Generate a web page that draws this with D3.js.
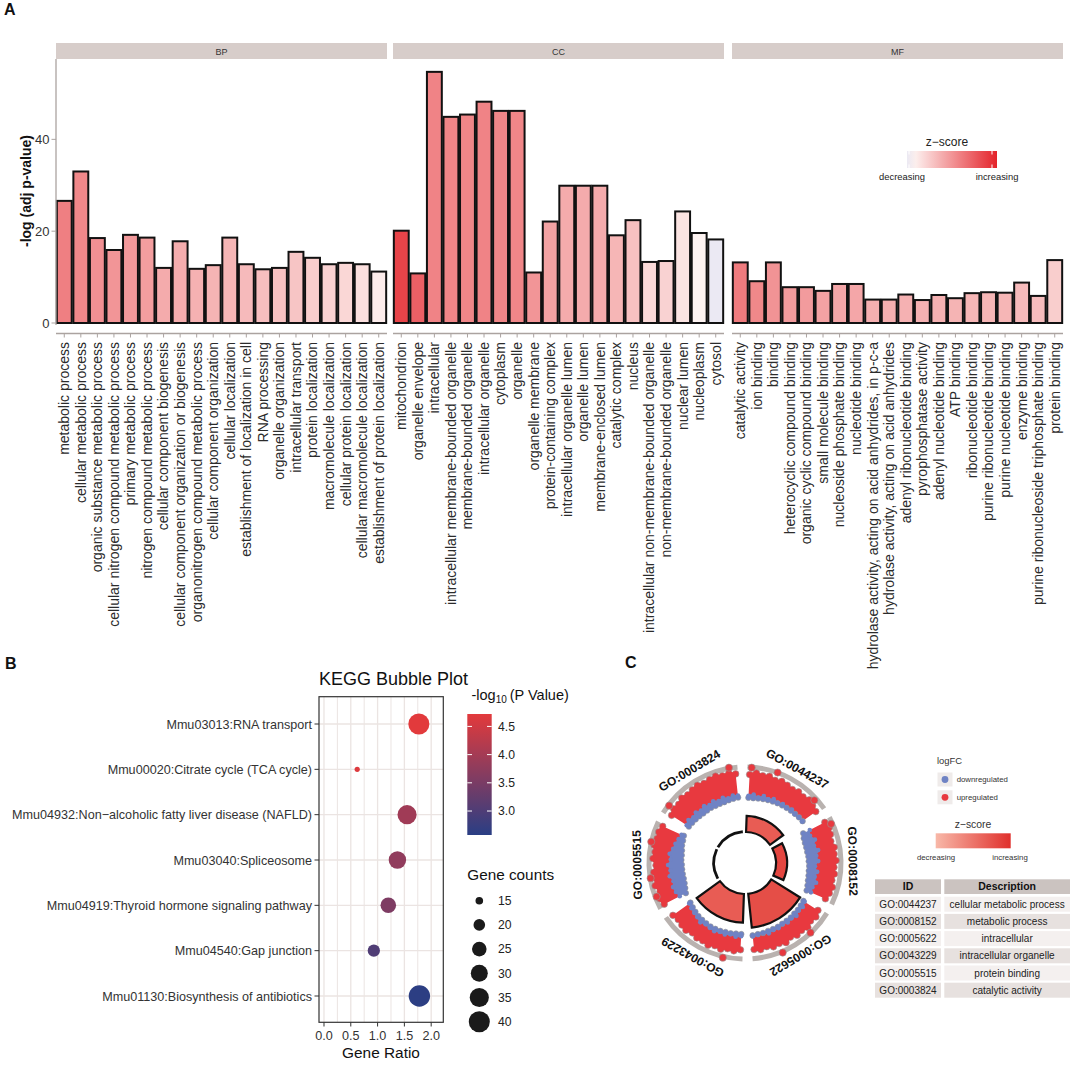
<!DOCTYPE html>
<html>
<head>
<meta charset="utf-8">
<script src="https://d3js.org/d3.v7.min.js"></script>
<style>
  body { margin: 0; background: #fff; }
  text { font-family: "Liberation Sans", Arial, sans-serif; }
</style>
</head>
<body>
<script>
// ---------- Panel A: GO enrichment bars ----------
var bpTerms = ["metabolic process", "cellular metabolic process", "organic substance metabolic process",
  "cellular nitrogen compound metabolic process", "primary metabolic process", "nitrogen compound metabolic process",
  "cellular component biogenesis", "cellular component organization or biogenesis",
  "organonitrogen compound metabolic process", "cellular component organization", "cellular localization",
  "establishment of localization in cell", "RNA processing", "organelle organization", "intracellular transport",
  "protein localization", "macromolecule localization", "cellular protein localization",
  "cellular macromolecule localization", "establishment of protein localization"];
var bpValue = [26.6, 33.0, 18.5, 15.9, 19.2, 18.6, 12.0, 17.8, 11.8, 12.6, 18.6, 12.8, 11.7, 12.0, 15.5, 14.2, 12.8, 13.1, 12.8, 11.2];
var bpZ = [0.58, 0.54, 0.50, 0.48, 0.46, 0.44, 0.38, 0.37, 0.35, 0.34, 0.33, 0.31, 0.29, 0.28, 0.26, 0.22, 0.20, 0.18, 0.14, 0.08];

var ccTerms = ["mitochondrion", "organelle envelope", "intracellular", "intracellular membrane-bounded organelle",
  "membrane-bounded organelle", "intracellular organelle", "cytoplasm", "organelle", "organelle membrane",
  "protein-containing complex", "intracellular organelle lumen", "organelle lumen", "membrane-enclosed lumen",
  "catalytic complex", "nucleus", "intracellular non-membrane-bounded organelle", "non-membrane-bounded organelle",
  "nuclear lumen", "nucleoplasm", "cytosol"];
var ccValue = [20.1, 10.8, 54.7, 44.9, 45.4, 48.2, 46.2, 46.2, 11.0, 22.1, 29.9, 29.9, 29.9, 19.1, 22.4, 13.3, 13.5, 24.3, 19.6, 18.2];
var ccZ = [0.85, 0.72, 0.56, 0.55, 0.55, 0.56, 0.55, 0.55, 0.48, 0.42, 0.38, 0.38, 0.38, 0.33, 0.28, 0.17, 0.20, 0.12, 0.05, -0.03];

var mfTerms = ["catalytic activity", "ion binding", "binding", "heterocyclic compound binding",
  "organic cyclic compound binding", "small molecule binding", "nucleoside phosphate binding", "nucleotide binding",
  "hydrolase activity, acting on acid anhydrides, in p-c-a", "hydrolase activity, acting on acid anhydrides",
  "adenyl ribonucleotide binding", "pyrophosphatase activity", "adenyl nucleotide binding", "ATP binding",
  "ribonucleotide binding", "purine ribonucleotide binding", "purine nucleotide binding", "enzyme binding",
  "purine ribonucleoside triphosphate binding", "protein binding"];
var mfValue = [13.2, 9.1, 13.2, 7.8, 7.8, 7.0, 8.5, 8.5, 5.1, 5.1, 6.2, 5.0, 6.1, 5.4, 6.5, 6.7, 6.6, 8.8, 5.9, 13.7];
var mfZ = [0.60, 0.54, 0.49, 0.45, 0.45, 0.42, 0.40, 0.40, 0.36, 0.36, 0.35, 0.35, 0.35, 0.34, 0.33, 0.33, 0.33, 0.31, 0.30, 0.22];

var facetNames = ["BP", "CC", "MF"];
var yTicksA = [0, 20, 40];

// ---------- Panel B: KEGG bubbles ----------
var keggTerms = ["Mmu03013:RNA transport", "Mmu00020:Citrate cycle (TCA cycle)",
  "Mmu04932:Non\u2212alcoholic fatty liver disease (NAFLD)", "Mmu03040:Spliceosome",
  "Mmu04919:Thyroid hormone signaling pathway", "Mmu04540:Gap junction", "Mmu01130:Biosynthesis of antibiotics"];
var keggRatio = [1.77, 0.62, 1.55, 1.37, 1.20, 0.93, 1.78];
var keggLogP = [4.72, 4.66, 3.95, 3.78, 3.55, 3.02, 2.60];
var keggCount = [40, 13, 35, 31, 27, 21, 41];
var ratioTicks = [0, 0.5, 1, 1.5, 2];
var logPTicks = [3.0, 3.5, 4.0, 4.5];
var countBreaks = [15, 20, 25, 30, 35, 40];

// ---------- Panel C: GO circle ----------
var goIds = ["GO:0044237", "GO:0008152", "GO:0005622", "GO:0043229", "GO:0005515", "GO:0003824"];
var goDesc = ["cellular metabolic process", "metabolic process", "intracellular", "intracellular organelle",
  "protein binding", "catalytic activity"];
var goAdjP = [33.0, 26.6, 54.7, 48.2, 13.7, 13.2];
var goZ = [6.8, 8.4, 7.8, 6.8, 5.0, 5.3];
// logFC envelope of member genes, 13 angular bins per term
var ringUp = [
  [2.2, 2.6, 2.3, 2.5, 2.1, 2.4, 2.2, 2.0, 2.3, 2.1, 2.5, 2.2, 2.0],
  [2.4, 2.7, 2.5, 2.2, 2.6, 2.4, 2.7, 2.3, 2.5, 2.2, 2.6, 2.4, 2.1],
  [1.9, 2.3, 2.0, 2.5, 2.1, 2.3, 1.9, 2.4, 2.0, 2.2, 1.8, 2.1, 1.9],
  [1.9, 2.2, 2.0, 2.4, 2.1, 2.5, 2.2, 2.3, 2.0, 2.4, 2.2, 2.0, 2.3],
  [2.6, 2.9, 2.4, 3.0, 2.5, 2.8, 2.3, 2.9, 2.6, 3.0, 2.7, 2.8, 2.5],
  [2.0, 2.4, 2.2, 2.6, 2.3, 2.5, 2.7, 2.4, 2.6, 2.8, 2.5, 2.7, 2.4]];
var ringMid = [
  [-1.9, -1.6, -2.0, -1.5, -1.8, -1.4, -1.7, -1.4, -1.6, -1.2, -1.5, -1.3, -1.3],
  [-0.9, -1.3, -0.7, -1.2, -0.6, -1.1, -0.8, -1.4, -0.9, -1.2, -0.7, -1.1, -1.0],
  [-1.2, -0.9, -1.1, -0.7, -1.0, -0.8, -1.1, -0.8, -0.9, -0.6, -1.0, -0.8, -0.7],
  [-0.8, -0.6, -0.9, -0.6, -0.8, -0.5, -0.7, -0.9, -0.6, -1.0, -1.2, -1.4, -1.6],
  [-0.8, -0.5, -0.3, -0.7, -0.2, -0.5, -0.1, -0.6, -0.3, -0.8, -1.0, -1.3, -1.5],
  [-1.5, -1.2, -1.6, -1.3, -1.7, -1.4, -1.8, -1.5, -1.9, -1.6, -2.0, -1.7, -1.8]];
var ringDown = [
  [-2.6, -2.6, -2.5, -2.4, -2.3, -2.2, -2.1, -2.0, -1.9, -1.8, -1.7, -1.6, -1.5],
  [-2.6, -2.9, -3.0, -3.0, -3.0, -2.9, -2.9, -2.8, -2.8, -2.7, -2.6, -2.4, -2.2],
  [-1.8, -1.7, -1.6, -1.6, -1.5, -1.5, -1.5, -1.4, -1.4, -1.4, -1.3, -1.3, -1.2],
  [-1.5, -1.5, -1.4, -1.4, -1.3, -1.3, -1.3, -1.4, -1.5, -1.6, -1.8, -2.0, -2.2],
  [-2.4, -2.7, -2.9, -3.0, -3.0, -3.0, -3.0, -2.9, -2.9, -2.8, -2.6, -2.5, -2.3],
  [-2.3, -2.4, -2.5, -2.6, -2.7, -2.7, -2.7, -2.8, -2.8, -2.8, -2.7, -2.6, -2.5]];
// isolated genes with large logFC: [term index, position in sector 0-1, logFC]
var ringOutliers = [[0, 0.02, 3.3], [0, 0.33, 3.4], [0, 0.88, 2.9], [1, 0.05, 3.1], [2, 0.27, 3.3],
  [2, 0.67, 3.6], [3, 0.2, 3.6], [4, 0.12, 3.1], [4, 0.35, 3.3], [4, 0.78, 3.4], [5, 0.08, 3.2], [5, 0.93, 3.5]];

var svg = d3.select("body").append("svg").attr("width", 1084).attr("height", 1072);
var defs = svg.append("defs");

function panelLetter(t, x, y) {
  svg.append("text").attr("x", x).attr("y", y).text(t)
    .attr("font-size", 16).attr("font-weight", "bold").attr("fill", "#111");
}
panelLetter("A", 4, 15);
panelLetter("B", 5, 669);
panelLetter("C", 625, 668);

// ================= Panel A =================
var facets = [
  { name: facetNames[0], terms: bpTerms, values: bpValue, z: bpZ },
  { name: facetNames[1], terms: ccTerms, values: ccValue, z: ccZ },
  { name: facetNames[2], terms: mfTerms, values: mfValue, z: mfZ }];
var facetLeft = [56, 393, 732], facetW = 331;
var yA = d3.scaleLinear().domain([0, 57.5]).range([323, 59]);
var zColorA = d3.scaleLinear().domain([-0.03, 0.05, 1]).range(["#ebe9f3", "#fdf3f1", "#e4232a"]);
var axisGrey = "#aba3a0";

facets.forEach(function (f, i) {
  var left = facetLeft[i];
  var g = svg.append("g");
  g.append("rect").attr("x", left).attr("y", 43).attr("width", facetW).attr("height", 16).attr("fill", "#d7cdca");
  g.append("text").attr("x", left + facetW / 2).attr("y", 54.5).attr("text-anchor", "middle")
    .attr("font-size", 9).attr("fill", "#333").text(f.name);

  var x = d3.scaleBand().domain(f.terms).range([left, left + facetW]).paddingInner(0.1).paddingOuter(0.05);
  g.selectAll("rect.bar").data(f.terms).enter().append("rect").attr("class", "bar")
    .attr("x", function (d) { return x(d); })
    .attr("y", function (d, j) { return yA(f.values[j]); })
    .attr("width", x.bandwidth())
    .attr("height", function (d, j) { return yA(0) - yA(f.values[j]); })
    .attr("fill", function (d, j) { return zColorA(f.z[j]); })
    .attr("stroke", "#111").attr("stroke-width", 2);

  g.append("line").attr("x1", left).attr("x2", left + facetW).attr("y1", 333.5).attr("y2", 333.5)
    .attr("stroke", axisGrey).attr("stroke-width", 1.3);
  g.selectAll("line.tick").data(f.terms).enter().append("line").attr("class", "tick")
    .attr("x1", function (d) { return x(d) + x.bandwidth() / 2; })
    .attr("x2", function (d) { return x(d) + x.bandwidth() / 2; })
    .attr("y1", 333.5).attr("y2", 337.5).attr("stroke", axisGrey).attr("stroke-width", 1);
  g.selectAll("text.lab").data(f.terms).enter().append("text").attr("class", "lab")
    .attr("transform", function (d) { return "translate(" + (x(d) + x.bandwidth() / 2) + ",342) rotate(-90)"; })
    .attr("text-anchor", "end").attr("dy", "0.35em")
    .attr("font-size", 14).attr("fill", "#2b2b2b").text(function (d) { return d; });
});

// y axis (first facet only)
svg.append("line").attr("x1", 56).attr("x2", 56).attr("y1", 59).attr("y2", 325)
  .attr("stroke", axisGrey).attr("stroke-width", 1.3);
yTicksA.forEach(function (t) {
  svg.append("line").attr("x1", 51.5).attr("x2", 56).attr("y1", yA(t)).attr("y2", yA(t))
    .attr("stroke", axisGrey).attr("stroke-width", 1);
  svg.append("text").attr("x", 49.5).attr("y", yA(t)).attr("dy", "0.36em").attr("text-anchor", "end")
    .attr("font-size", 13).attr("fill", "#333").text(t);
});
svg.append("text").attr("transform", "translate(31,191) rotate(-90)").attr("text-anchor", "middle")
  .attr("font-size", 14).attr("font-weight", "bold").attr("fill", "#111").text("-log (adj p-value)");

// z-score legend (A)
var gradA = defs.append("linearGradient").attr("id", "gradA");
d3.range(0, 1.001, 0.1).forEach(function (t) {
  gradA.append("stop").attr("offset", t).attr("stop-color", zColorA(-0.03 + t * 1.03));
});
svg.append("text").attr("x", 947).attr("y", 146).attr("text-anchor", "middle").attr("font-size", 12)
  .attr("fill", "#222").text("z\u2212score");
svg.append("rect").attr("x", 907).attr("y", 151).attr("width", 90).attr("height", 17).attr("fill", "url(#gradA)");
[909, 992].forEach(function (tx) {
  svg.append("line").attr("x1", tx).attr("x2", tx).attr("y1", 151).attr("y2", 154.5).attr("stroke", "#fff");
  svg.append("line").attr("x1", tx).attr("x2", tx).attr("y1", 164.5).attr("y2", 168).attr("stroke", "#fff");
});
svg.append("text").attr("x", 902).attr("y", 180).attr("text-anchor", "middle").attr("font-size", 9.4)
  .attr("fill", "#222").text("decreasing");
svg.append("text").attr("x", 997).attr("y", 180).attr("text-anchor", "middle").attr("font-size", 9.4)
  .attr("fill", "#222").text("increasing");

// ================= Panel B =================
var xB = d3.scaleLinear().domain([-0.093, 2.226]).range([319, 443.3]);
var yB = d3.scalePoint().domain(keggTerms).range([724, 996]);
var colB = d3.scaleLinear().domain([2.575, 4.72]).range(["#2a3e84", "#e23a3c"]);
var sizeB = d3.scaleRadial().domain([13, 41]).range([2.6, 10.7]);
var gB = svg.append("g");

gB.append("text").attr("x", 319).attr("y", 685).attr("font-size", 18).attr("fill", "#111").text("KEGG Bubble Plot");
gB.append("rect").attr("x", 319).attr("y", 696.7).attr("width", 124.3).attr("height", 325.6).attr("fill", "#fff");
d3.range(0, 2.01, 0.25).forEach(function (v) {
  gB.append("line").attr("x1", xB(v)).attr("x2", xB(v)).attr("y1", 696.7).attr("y2", 1022.3)
    .attr("stroke", "#ebe4e2").attr("stroke-width", v % 0.5 === 0 ? 1.3 : 1);
});
keggTerms.forEach(function (t) {
  gB.append("line").attr("x1", 319).attr("x2", 443.3).attr("y1", yB(t)).attr("y2", yB(t))
    .attr("stroke", "#ebe4e2").attr("stroke-width", 1.3);
});
gB.append("rect").attr("x", 319).attr("y", 696.7).attr("width", 124.3).attr("height", 325.6)
  .attr("fill", "none").attr("stroke", "#333").attr("stroke-width", 1.2);

gB.selectAll("circle.kegg").data(keggTerms).enter().append("circle").attr("class", "kegg")
  .attr("cx", function (d, i) { return xB(keggRatio[i]); })
  .attr("cy", function (d) { return yB(d); })
  .attr("r", function (d, i) { return sizeB(keggCount[i]); })
  .attr("fill", function (d, i) { return colB(keggLogP[i]); });

keggTerms.forEach(function (t) {
  gB.append("line").attr("x1", 314.5).attr("x2", 319).attr("y1", yB(t)).attr("y2", yB(t)).attr("stroke", "#333");
  gB.append("text").attr("x", 312).attr("y", yB(t)).attr("dy", "0.36em").attr("text-anchor", "end")
    .attr("font-size", 12.6).attr("fill", "#333").text(t);
});
ratioTicks.forEach(function (v) {
  gB.append("line").attr("x1", xB(v)).attr("x2", xB(v)).attr("y1", 1022.3).attr("y2", 1026.5).attr("stroke", "#333");
  gB.append("text").attr("x", xB(v)).attr("y", 1040).attr("text-anchor", "middle")
    .attr("font-size", 12.6).attr("fill", "#333").text(v.toFixed(1));
});
gB.append("text").attr("x", 381).attr("y", 1058).attr("text-anchor", "middle").attr("font-size", 15.4)
  .attr("fill", "#111").text("Gene Ratio");

// colour bar legend
var lt = gB.append("text").attr("x", 471.5).attr("y", 700).attr("font-size", 14.5).attr("fill", "#111");
lt.append("tspan").text("-log");
lt.append("tspan").attr("dy", 3).attr("font-size", 10).text("10");
lt.append("tspan").attr("dy", -3).text("\u2009(P Value)");
var gradB = defs.append("linearGradient").attr("id", "gradB").attr("x1", 0).attr("y1", 1).attr("x2", 0).attr("y2", 0);
d3.range(0, 1.001, 0.1).forEach(function (t) {
  gradB.append("stop").attr("offset", t).attr("stop-color", colB(2.575 + t * (4.72 - 2.575)));
});
var yLeg = d3.scaleLinear().domain([2.575, 4.72]).range([835, 714]);
gB.append("rect").attr("x", 467.3).attr("y", 714).attr("width", 24.4).attr("height", 121).attr("fill", "url(#gradB)");
logPTicks.forEach(function (v) {
  gB.append("line").attr("x1", 467.3).attr("x2", 472).attr("y1", yLeg(v)).attr("y2", yLeg(v)).attr("stroke", "#fff");
  gB.append("line").attr("x1", 487).attr("x2", 491.7).attr("y1", yLeg(v)).attr("y2", yLeg(v)).attr("stroke", "#fff");
  gB.append("text").attr("x", 498).attr("y", yLeg(v)).attr("dy", "0.36em").attr("font-size", 12.2)
    .attr("fill", "#222").text(v.toFixed(1));
});
// size legend
gB.append("text").attr("x", 467.3).attr("y", 880).attr("font-size", 15.3).attr("fill", "#111").text("Gene counts");
countBreaks.forEach(function (v, i) {
  var cy = 900.7 + i * 24.2;
  gB.append("circle").attr("cx", 479.3).attr("cy", cy).attr("r", sizeB(v)).attr("fill", "#1a1a1a");
  gB.append("text").attr("x", 498).attr("y", cy).attr("dy", "0.36em").attr("font-size", 12.2)
    .attr("fill", "#222").text(v);
});

// ================= Panel C =================
var cx = 745, cy = 863;
var rad = function (deg) { return deg * Math.PI / 180; };
var gC = svg.append("g").attr("transform", "translate(" + cx + "," + cy + ")");
var rBar = d3.scaleLinear().domain(d3.extent(goAdjP)).range([31, 65]);
var zColorC = d3.scaleLinear().domain([0, 10]).range(["#f8b8a8", "#e0302c"]);
var rRing = d3.scaleLinear().domain([-3, 3]).range([62, 94]);
var red = "#e8393f", blue = "#6f83c4", rim = "#959595";

function binAngle(k, j) { var a0 = 60 * k + 3, a1 = 60 * k + 54; return rad(a0 + (a1 - a0) * j / 12); }
function bead(r, a, size, fill, stroke) {
  var c = gC.append("circle").attr("cx", r * Math.sin(a)).attr("cy", -r * Math.cos(a)).attr("r", size).attr("fill", fill);
  if (stroke) c.attr("stroke", rim).attr("stroke-width", 0.6);
}

goIds.forEach(function (id, k) {
  var idx = d3.range(13);
  // grey band of the outer ring
  gC.append("path").attr("d", d3.arc().innerRadius(93.5).outerRadius(98.5)
    .startAngle(rad(60 * k + 1.5)).endAngle(rad(60 * k + 55.5))()).attr("fill", "#b9b2af");

  var redArea = d3.areaRadial().angle(function (j) { return binAngle(k, j); })
    .innerRadius(function (j) { return rRing(ringMid[k][j]) - 1; })
    .outerRadius(function (j) { return rRing(ringUp[k][j]); }).curve(d3.curveCatmullRom);
  var blueArea = d3.areaRadial().angle(function (j) { return binAngle(k, j); })
    .innerRadius(function (j) { return rRing(ringDown[k][j]); })
    .outerRadius(function (j) { return rRing(ringMid[k][j]); }).curve(d3.curveCatmullRom);

  // rim beads first, the filled areas cover their inner halves
  idx.forEach(function (j) { bead(rRing(ringUp[k][j]) - 1.2, binAngle(k, j), 3.3, red, true); });
  gC.append("path").attr("d", redArea(idx)).attr("fill", red);
  idx.forEach(function (j) { bead(rRing(ringDown[k][j]) + 1.2, binAngle(k, j), 2.8, blue, true); });
  gC.append("path").attr("d", blueArea(idx)).attr("fill", blue);
  idx.forEach(function (j) { bead(rRing(ringMid[k][j]) - 0.5, binAngle(k, j), 2.3, blue, false); });

  // inner bar
  gC.append("path").attr("d", d3.arc().innerRadius(31)
    .outerRadius(Math.max(rBar(goAdjP[k]), 31.6))
    .startAngle(rad(60 * k + 2)).endAngle(rad(60 * k + 54))())
    .attr("fill", zColorC(goZ[k])).attr("stroke", "#111").attr("stroke-width", 2.2);

  // term label
  var la = 60 * k + 29, lr = 108;
  gC.append("text")
    .attr("transform", "translate(" + (lr * Math.sin(rad(la))) + "," + (-lr * Math.cos(rad(la))) + ") rotate(" + la + ")")
    .attr("text-anchor", "middle").attr("dy", "0.36em").attr("font-size", 12).attr("font-weight", "bold")
    .attr("fill", "#111").text(id);
});

ringOutliers.forEach(function (o) {
  bead(rRing(o[2]), rad(60 * o[0] + 3 + 51 * o[1]), 3.6, red, true);
});

// logFC legend
svg.append("text").attr("x", 937).attr("y", 763.5).attr("font-size", 9.4).attr("fill", "#333").text("logFC");
[["downregulated", blue], ["upregulated", red]].forEach(function (d, i) {
  var y0 = 772.5 + i * 17.8;
  svg.append("rect").attr("x", 937.5).attr("y", y0).attr("width", 15).attr("height", 14).attr("fill", "#efebea");
  svg.append("circle").attr("cx", 945).attr("cy", y0 + 7).attr("r", 3.4).attr("fill", d[1]);
  svg.append("text").attr("x", 956.7).attr("y", y0 + 7).attr("dy", "0.36em").attr("font-size", 7.8)
    .attr("fill", "#333").text(d[0]);
});
// z-score legend (C)
var gradC = defs.append("linearGradient").attr("id", "gradC");
gradC.append("stop").attr("offset", 0).attr("stop-color", zColorC(0));
gradC.append("stop").attr("offset", 1).attr("stop-color", zColorC(10));
svg.append("text").attr("x", 973).attr("y", 828).attr("text-anchor", "middle").attr("font-size", 10.4)
  .attr("fill", "#333").text("z\u2212score");
svg.append("rect").attr("x", 935.7).attr("y", 833.3).attr("width", 75).attr("height", 15).attr("fill", "url(#gradC)");
svg.append("text").attr("x", 936).attr("y", 859.5).attr("text-anchor", "middle").attr("font-size", 7.8)
  .attr("fill", "#333").text("decreasing");
svg.append("text").attr("x", 1010).attr("y", 859.5).attr("text-anchor", "middle").attr("font-size", 7.8)
  .attr("fill", "#333").text("increasing");

// term table
var colX = [875, 944.3], colW = [66, 125.7];
["ID", "Description"].forEach(function (h, c) {
  svg.append("rect").attr("x", colX[c]).attr("y", 879.3).attr("width", colW[c]).attr("height", 14.7).attr("fill", "#cbc3c0");
  svg.append("text").attr("x", colX[c] + colW[c] / 2).attr("y", 886.7).attr("dy", "0.36em").attr("text-anchor", "middle")
    .attr("font-size", 10.5).attr("font-weight", "bold").attr("fill", "#111").text(h);
});
goIds.forEach(function (id, i) {
  var y0 = 896.7 + i * 17.2;
  [id, goDesc[i]].forEach(function (t, c) {
    svg.append("rect").attr("x", colX[c]).attr("y", y0).attr("width", colW[c]).attr("height", 15)
      .attr("fill", i % 2 === 0 ? "#f4f0ef" : "#e7e1df");
    svg.append("text").attr("x", colX[c] + colW[c] / 2).attr("y", y0 + 7.5).attr("dy", "0.36em")
      .attr("text-anchor", "middle").attr("font-size", 10).attr("fill", "#222").text(t);
  });
});
</script>
</body>
</html>
